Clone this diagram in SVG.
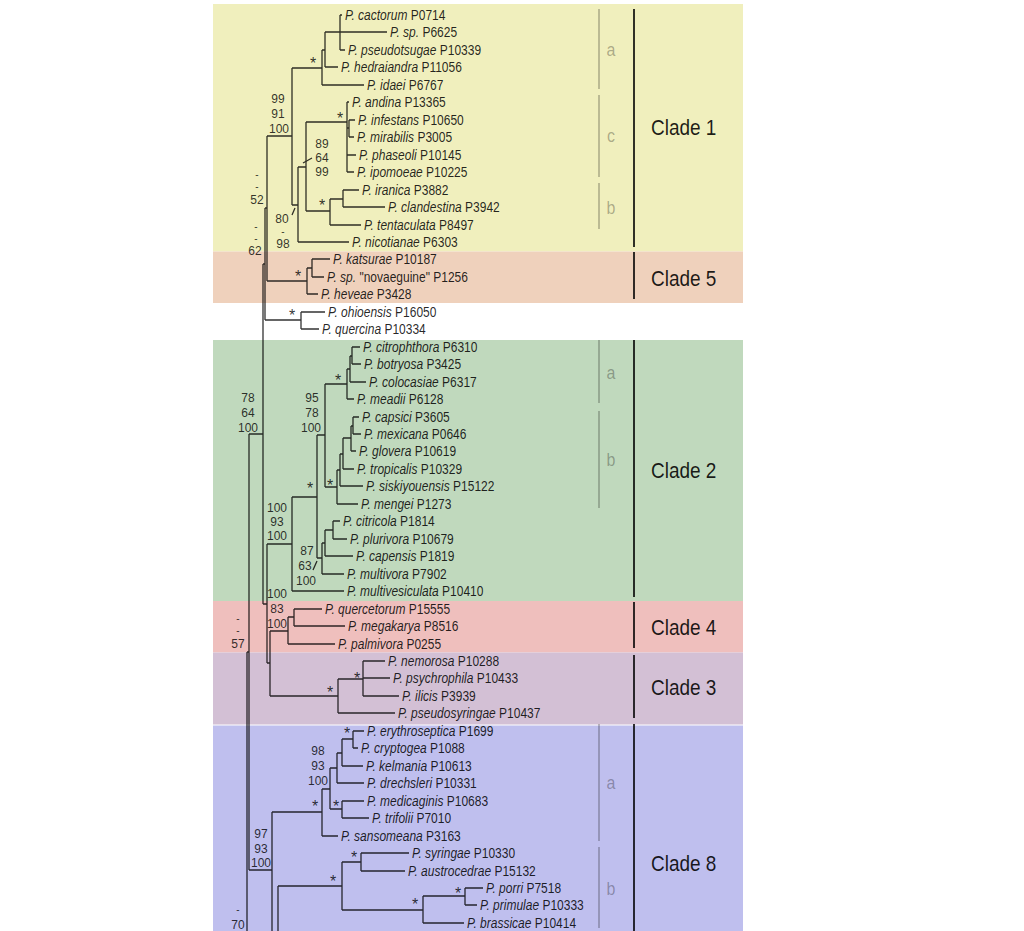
<svg xmlns="http://www.w3.org/2000/svg" width="1024" height="931" viewBox="0 0 1024 931">
<style>
text{font-family:"Liberation Sans",Arial,sans-serif}
.t,.cl,.sub{transform-box:fill-box;transform-origin:50% 50%;transform:scaleY(1.17)}
.t{font-size:12px;fill:#000;fill-opacity:.85}
.i{font-style:italic}
.s{font-size:12px;fill:#000;fill-opacity:.8;text-anchor:middle}
.d{font-size:10px}
.st{font-size:16px;fill:#000;fill-opacity:.8;text-anchor:middle}
.cl{font-size:19px;fill:#000;fill-opacity:.88}
.sub{font-size:16px;fill:#000;fill-opacity:.3;text-anchor:middle}
.bar{stroke:#000;stroke-opacity:.8;stroke-width:2}
.sbar{stroke:#000;stroke-opacity:.22;stroke-width:2}
</style>
<rect width="1024" height="931" fill="#fff"/>
<g id="bands">
<rect x="213" y="4" width="530" height="247.5" fill="#f0efbd"/>
<rect x="213" y="251.5" width="530" height="51.5" fill="#efd1bc"/>
<rect x="213" y="340" width="530" height="261" fill="#c0d9bd"/>
<rect x="213" y="601" width="530" height="51.5" fill="#efbfbd"/>
<rect x="213" y="652.5" width="530" height="72" fill="#d3c0d5"/>
<rect x="213" y="725.5" width="530" height="206" fill="#bfbfee"/>
</g>
<g id="clade-markers">
<line class="bar" x1="634" y1="9" x2="634" y2="247"/>
<line class="bar" x1="634" y1="252" x2="634" y2="299"/>
<line class="bar" x1="634" y1="340" x2="634" y2="597"/>
<line class="bar" x1="634" y1="602" x2="634" y2="648"/>
<line class="bar" x1="634" y1="655" x2="634" y2="718"/>
<line class="bar" x1="634" y1="724" x2="634" y2="931"/>
<line class="sbar" x1="599" y1="9" x2="599" y2="89"/>
<line class="sbar" x1="599" y1="95" x2="599" y2="177"/>
<line class="sbar" x1="599" y1="183" x2="599" y2="229"/>
<line class="sbar" x1="599" y1="340" x2="599" y2="403"/>
<line class="sbar" x1="599" y1="411" x2="599" y2="508"/>
<line class="sbar" x1="599" y1="724" x2="599" y2="841"/>
<line class="sbar" x1="599" y1="847" x2="599" y2="928"/>
</g>
<g id="clade-labels">
<text class="cl" x="651" y="134">Clade 1</text>
<text class="cl" x="651" y="285">Clade 5</text>
<text class="cl" x="651" y="477">Clade 2</text>
<text class="cl" x="651" y="634">Clade 4</text>
<text class="cl" x="651" y="694">Clade 3</text>
<text class="cl" x="651" y="870">Clade 8</text>
<text class="sub" x="611" y="55">a</text>
<text class="sub" x="611" y="141">c</text>
<text class="sub" x="611" y="213">b</text>
<text class="sub" x="611" y="378">a</text>
<text class="sub" x="611" y="465">b</text>
<text class="sub" x="611" y="788">a</text>
<text class="sub" x="611" y="894">b</text>
</g>
<g id="connectors" fill="none" stroke="#000" stroke-width="1.3" opacity="0.8">
<path d="M340 15V50M340 15H342M340 32H387M340 50H345"/>
<path d="M325 32V67M325 32H340M325 67H338"/>
<path d="M322 50V85M322 50H325M322 85H364"/>
<path d="M347 102V172M347 102H349M347 128H349M347 155H356M347 172H354"/>
<path d="M349 120V137M349 120H355M349 137H354"/>
<path d="M343 190V207M343 190H359M343 207H385"/>
<path d="M330 199V225M330 199H343M330 225H361"/>
<path d="M306 122V211M306 122H347M306 211H330"/>
<path d="M298 167V242M298 167H306M298 242H349"/>
<path d="M292 68V205M292 68H322M292 205H298"/>
<path d="M312 259V277M312 259H330M312 277H324"/>
<path d="M307 268V294M307 268H312M307 294H318"/>
<path d="M267 136V281M267 136H292M267 281H307"/>
<path d="M301 312V329M301 312H325M301 329H319"/>
<path d="M265 208V320M265 208H267M265 320H301"/>
<path d="M352 347V364M352 347H360M352 364H361"/>
<path d="M350 356V382M350 356H352M350 382H366"/>
<path d="M347 369V399M347 369H350M347 399H354"/>
<path d="M353 417V434M353 417H359M353 434H361"/>
<path d="M351 426V451M351 426H353M351 451H356"/>
<path d="M343 438V469M343 438H351M343 469H354"/>
<path d="M340 454V486M340 454H343M340 486H363"/>
<path d="M337 470V504M337 470H340M337 504H358"/>
<path d="M325 384V487M325 384H347M325 487H337"/>
<path d="M333 521V539M333 521H340M333 539H347"/>
<path d="M325 530V556M325 530H333M325 556H353"/>
<path d="M322 543V574M322 543H325M322 574H344"/>
<path d="M317 435V558M317 435H325M317 558H322"/>
<path d="M292 497V591M292 497H317M292 591H344"/>
<path d="M294 609V626M294 609H322M294 626H345"/>
<path d="M288 617V644M288 617H294M288 644H335"/>
<path d="M363 661V696M363 661H385M363 678H390M363 696H399"/>
<path d="M338 679V713M338 679H363M338 713H395"/>
<path d="M270 631V696M270 631H288M270 696H338"/>
<path d="M267 544V663M267 544H292M267 663H270"/>
<path d="M263 264V604M263 264H265M263 604H267"/>
<path d="M353 731V748M353 731H364M353 748H358"/>
<path d="M342 739V766M342 739H353M342 766H363"/>
<path d="M337 753V783M337 753H342M337 783H364"/>
<path d="M342 801V818M342 801H364M342 818H369"/>
<path d="M330 768V809M330 768H337M330 809H342"/>
<path d="M322 789V836M322 789H330M322 836H338"/>
<path d="M361 853V871M361 853H409M361 871H405"/>
<path d="M465 888V905M465 888H483M465 905H477"/>
<path d="M423 896V923M423 896H465M423 923H464"/>
<path d="M342 862V910M342 862H361M342 910H423"/>
<path d="M278 886V935M278 886H342"/>
<path d="M272 812V935M272 812H322"/>
<path d="M249 434V870M249 434H263M249 870H272"/>
<path d="M247 652V935M247 652H249"/>
<path d="M303 163L312 158M292 215L295 208M313 570L317 561"/>
</g>
<g id="support">
<text class="s"><tspan x="278" y="103">99</tspan><tspan x="278" y="117.5">91</tspan><tspan x="279" y="132.5">100</tspan></text>
<text class="s"><tspan x="322" y="147.5">89</tspan><tspan x="322" y="161.5">64</tspan><tspan x="322" y="175.5">99</tspan></text>
<text class="s"><tspan class="d" x="257" y="178">-</tspan><tspan class="d" x="257" y="190">-</tspan><tspan x="257" y="203.5">52</tspan></text>
<text class="s"><tspan x="282" y="222.5">80</tspan><tspan class="d" x="283" y="234.5">-</tspan><tspan x="283" y="247.5">98</tspan></text>
<text class="s"><tspan class="d" x="256" y="230">-</tspan><tspan class="d" x="256" y="241.5">-</tspan><tspan x="255" y="254.5">62</tspan></text>
<text class="s"><tspan x="248" y="401.5">78</tspan><tspan x="248" y="416.5">64</tspan><tspan x="248" y="431.5">100</tspan></text>
<text class="s"><tspan x="312" y="401.5">95</tspan><tspan x="312" y="416.5">78</tspan><tspan x="311" y="431.5">100</tspan></text>
<text class="s"><tspan x="277" y="511.5">100</tspan><tspan x="277" y="525.5">93</tspan><tspan x="277" y="539.5">100</tspan></text>
<text class="s"><tspan x="307" y="554.5">87</tspan><tspan x="305" y="569.5">63</tspan><tspan x="306" y="584.5">100</tspan></text>
<text class="s"><tspan x="277" y="597.5">100</tspan><tspan x="277" y="612.5">83</tspan><tspan x="277" y="627.5">100</tspan></text>
<text class="s"><tspan class="d" x="238" y="622">-</tspan><tspan class="d" x="238" y="633.5">-</tspan><tspan x="238" y="647.5">57</tspan></text>
<text class="s"><tspan x="318" y="754.5">98</tspan><tspan x="318" y="769.5">93</tspan><tspan x="318" y="784.5">100</tspan></text>
<text class="s"><tspan x="261" y="837.5">97</tspan><tspan x="261" y="852.5">93</tspan><tspan x="261" y="866.5">100</tspan></text>
<text class="s"><tspan class="d" x="238" y="913">-</tspan><tspan x="238" y="928.5">70</tspan></text>
<text class="st" x="313" y="69">*</text>
<text class="st" x="340" y="124">*</text>
<text class="st" x="322" y="211">*</text>
<text class="st" x="298" y="282">*</text>
<text class="st" x="292" y="321">*</text>
<text class="st" x="338" y="386">*</text>
<text class="st" x="330" y="491">*</text>
<text class="st" x="310" y="494">*</text>
<text class="st" x="330" y="698">*</text>
<text class="st" x="357" y="684">*</text>
<text class="st" x="347" y="739">*</text>
<text class="st" x="336" y="812">*</text>
<text class="st" x="315" y="812">*</text>
<text class="st" x="354" y="863">*</text>
<text class="st" x="333" y="887">*</text>
<text class="st" x="415" y="910">*</text>
<text class="st" x="458" y="899">*</text>
</g>
<g id="taxa">
<g id="t1"><text class="t" x="345" y="19"><tspan class="i">P. cactorum</tspan> P0714</text></g>
<g id="t2"><text class="t" x="390" y="36"><tspan class="i">P. sp.</tspan> P6625</text></g>
<g id="t3"><text class="t" x="348" y="54"><tspan class="i">P. pseudotsugae</tspan> P10339</text></g>
<g id="t4"><text class="t" x="341" y="71"><tspan class="i">P. hedraiandra</tspan> P11056</text></g>
<g id="t5"><text class="t" x="367" y="89"><tspan class="i">P. idaei</tspan> P6767</text></g>
<g id="t6"><text class="t" x="352" y="106"><tspan class="i">P. andina</tspan> P13365</text></g>
<g id="t7"><text class="t" x="358" y="124"><tspan class="i">P. infestans</tspan> P10650</text></g>
<g id="t8"><text class="t" x="357" y="141"><tspan class="i">P. mirabilis</tspan> P3005</text></g>
<g id="t9"><text class="t" x="359" y="159"><tspan class="i">P. phaseoli</tspan> P10145</text></g>
<g id="t10"><text class="t" x="357" y="176"><tspan class="i">P. ipomoeae</tspan> P10225</text></g>
<g id="t11"><text class="t" x="362" y="194"><tspan class="i">P. iranica</tspan> P3882</text></g>
<g id="t12"><text class="t" x="388" y="211"><tspan class="i">P. clandestina</tspan> P3942</text></g>
<g id="t13"><text class="t" x="364" y="229"><tspan class="i">P. tentaculata</tspan> P8497</text></g>
<g id="t14"><text class="t" x="352" y="246"><tspan class="i">P. nicotianae</tspan> P6303</text></g>
<g id="t15"><text class="t" x="333" y="263"><tspan class="i">P. katsurae</tspan> P10187</text></g>
<g id="t16"><text class="t" x="327" y="281"><tspan class="i">P. sp.</tspan> "novaeguine" P1256</text></g>
<g id="t17"><text class="t" x="321" y="298"><tspan class="i">P. heveae</tspan> P3428</text></g>
<g id="t18"><text class="t" x="328" y="316"><tspan class="i">P. ohioensis</tspan> P16050</text></g>
<g id="t19"><text class="t" x="322" y="333"><tspan class="i">P. quercina</tspan> P10334</text></g>
<g id="t20"><text class="t" x="363" y="351"><tspan class="i">P. citrophthora</tspan> P6310</text></g>
<g id="t21"><text class="t" x="364" y="368"><tspan class="i">P. botryosa</tspan> P3425</text></g>
<g id="t22"><text class="t" x="369" y="386"><tspan class="i">P. colocasiae</tspan> P6317</text></g>
<g id="t23"><text class="t" x="357" y="403"><tspan class="i">P. meadii</tspan> P6128</text></g>
<g id="t24"><text class="t" x="362" y="421"><tspan class="i">P. capsici</tspan> P3605</text></g>
<g id="t25"><text class="t" x="364" y="438"><tspan class="i">P. mexicana</tspan> P0646</text></g>
<g id="t26"><text class="t" x="359" y="455"><tspan class="i">P. glovera</tspan> P10619</text></g>
<g id="t27"><text class="t" x="357" y="473"><tspan class="i">P. tropicalis</tspan> P10329</text></g>
<g id="t28"><text class="t" x="366" y="490"><tspan class="i">P. siskiyouensis</tspan> P15122</text></g>
<g id="t29"><text class="t" x="361" y="508"><tspan class="i">P. mengei</tspan> P1273</text></g>
<g id="t30"><text class="t" x="343" y="525"><tspan class="i">P. citricola</tspan> P1814</text></g>
<g id="t31"><text class="t" x="350" y="543"><tspan class="i">P. plurivora</tspan> P10679</text></g>
<g id="t32"><text class="t" x="356" y="560"><tspan class="i">P. capensis</tspan> P1819</text></g>
<g id="t33"><text class="t" x="347" y="578"><tspan class="i">P. multivora</tspan> P7902</text></g>
<g id="t34"><text class="t" x="347" y="595"><tspan class="i">P. multivesiculata</tspan> P10410</text></g>
<g id="t35"><text class="t" x="325" y="613"><tspan class="i">P. quercetorum</tspan> P15555</text></g>
<g id="t36"><text class="t" x="348" y="630"><tspan class="i">P. megakarya</tspan> P8516</text></g>
<g id="t37"><text class="t" x="338" y="648"><tspan class="i">P. palmivora</tspan> P0255</text></g>
<g id="t38"><text class="t" x="388" y="665"><tspan class="i">P. nemorosa</tspan> P10288</text></g>
<g id="t39"><text class="t" x="393" y="682"><tspan class="i">P. psychrophila</tspan> P10433</text></g>
<g id="t40"><text class="t" x="402" y="700"><tspan class="i">P. ilicis</tspan> P3939</text></g>
<g id="t41"><text class="t" x="398" y="717"><tspan class="i">P. pseudosyringae</tspan> P10437</text></g>
<g id="t42"><text class="t" x="367" y="735"><tspan class="i">P. erythroseptica</tspan> P1699</text></g>
<g id="t43"><text class="t" x="361" y="752"><tspan class="i">P. cryptogea</tspan> P1088</text></g>
<g id="t44"><text class="t" x="366" y="770"><tspan class="i">P. kelmania</tspan> P10613</text></g>
<g id="t45"><text class="t" x="367" y="787"><tspan class="i">P. drechsleri</tspan> P10331</text></g>
<g id="t46"><text class="t" x="367" y="805"><tspan class="i">P. medicaginis</tspan> P10683</text></g>
<g id="t47"><text class="t" x="372" y="822"><tspan class="i">P. trifolii</tspan> P7010</text></g>
<g id="t48"><text class="t" x="341" y="840"><tspan class="i">P. sansomeana</tspan> P3163</text></g>
<g id="t49"><text class="t" x="412" y="857"><tspan class="i">P. syringae</tspan> P10330</text></g>
<g id="t50"><text class="t" x="408" y="875"><tspan class="i">P. austrocedrae</tspan> P15132</text></g>
<g id="t51"><text class="t" x="486" y="892"><tspan class="i">P. porri</tspan> P7518</text></g>
<g id="t52"><text class="t" x="480" y="909"><tspan class="i">P. primulae</tspan> P10333</text></g>
<g id="t53"><text class="t" x="467" y="927"><tspan class="i">P. brassicae</tspan> P10414</text></g>
</g>
</svg>
